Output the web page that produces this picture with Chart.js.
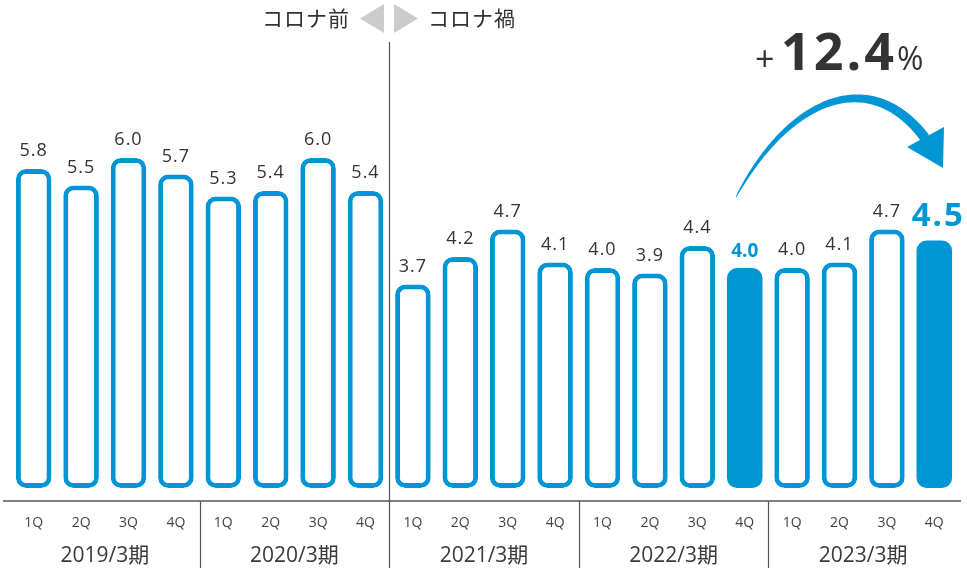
<!DOCTYPE html>
<html>
<head>
<meta charset="utf-8">
<script src="https://cdn.jsdelivr.net/npm/chart.js@4/dist/chart.umd.min.js"></script>
<style>
  html, body { margin: 0; padding: 0; background: #ffffff; }
  #wrap { width: 967px; height: 568px; }
</style>
</head>
<body>
<div id="wrap"><canvas id="chart" width="967" height="568"></canvas></div>
<script>
// Quarterly figures, five fiscal years of four quarters each
const quarters = ['1Q', '2Q', '3Q', '4Q', '1Q', '2Q', '3Q', '4Q', '1Q', '2Q', '3Q', '4Q',
                  '1Q', '2Q', '3Q', '4Q', '1Q', '2Q', '3Q', '4Q'];
const fiscalYears = ['2019/3期', '2020/3期', '2021/3期', '2022/3期', '2023/3期'];
const values = [5.8, 5.5, 6.0, 5.7, 5.3, 5.4, 6.0, 5.4, 3.7, 4.2, 4.7, 4.1,
                4.0, 3.9, 4.4, 4.0, 4.0, 4.1, 4.7, 4.5];
// Filled (emphasised) bars: the two most recent fourth quarters
const emphasised = [false, false, false, false, false, false, false, false, false, false,
                    false, false, false, false, false, true, false, false, false, true];
const growthText = ['+', '12.4', '%'];
const periodTexts = ['コロナ前', 'コロナ禍'];

const BLUE = '#0096d6';
const TEXT = '#333333';
const LINE = '#555555';
const FONT = "'Open Sans', 'Noto Sans CJK JP', sans-serif";
const JP_FONT = "'Noto Sans CJK JP', 'Open Sans', sans-serif";

const decorations = {
  id: 'decorations',
  afterDatasetsDraw(chart) {
    const ctx = chart.ctx;
    const x = chart.scales.x;
    const y = chart.scales.y;
    const area = chart.chartArea;
    const axisY = area.bottom + 13;

    ctx.save();

    // value labels above each bar
    ctx.textAlign = 'center';
    ctx.textBaseline = 'alphabetic';
    values.forEach((v, i) => {
      const px = x.getPixelForValue(i);
      const top = y.getPixelForValue(v);
      const txt = v.toFixed(1);
      if (emphasised[i]) {
        ctx.fillStyle = BLUE;
        if (i === values.length - 1) {
          ctx.font = 'bold 33px ' + FONT;
          ctx.letterSpacing = '2px';
          ctx.fillText(txt, px + 4, top - 15);
        } else {
          ctx.font = 'bold 19px ' + FONT;
          ctx.letterSpacing = '0px';
          ctx.fillText(txt, px, top - 11);
        }
      } else {
        ctx.fillStyle = TEXT;
        ctx.font = '18px ' + FONT;
        ctx.letterSpacing = '1px';
        ctx.fillText(txt, px, top - 13);
      }
    });
    ctx.letterSpacing = '0px';

    // horizontal axis line
    ctx.strokeStyle = LINE;
    ctx.lineWidth = 1.5;
    ctx.beginPath();
    ctx.moveTo(3, axisY);
    ctx.lineTo(961, axisY);
    ctx.stroke();

    // fiscal-year separators and labels
    ctx.lineWidth = 1.2;
    for (let g = 0; g < fiscalYears.length; g++) {
      const first = g * 4;
      const last = first + 3;
      if (g > 0) {
        const sx = Math.round((x.getPixelForValue(first - 1) + x.getPixelForValue(first)) / 2) + 0.5;
        ctx.beginPath();
        ctx.moveTo(sx, g === 2 ? 42 : axisY);
        ctx.lineTo(sx, 568);
        ctx.stroke();
      }
      const cx = (x.getPixelForValue(first) + x.getPixelForValue(last)) / 2;
      ctx.fillStyle = '#3a3a3a';
      ctx.font = '21px ' + FONT;
      ctx.textAlign = 'center';
      ctx.fillText(fiscalYears[g], cx, 562);
    }

    // quarter labels
    ctx.font = '14px ' + FONT;
    ctx.fillStyle = '#444444';
    quarters.forEach((q, i) => {
      ctx.fillText(q, x.getPixelForValue(i), 527);
    });

    // before / during markers around the central separator
    const mid = Math.round((x.getPixelForValue(7) + x.getPixelForValue(8)) / 2);
    ctx.fillStyle = '#cccccc';
    ctx.beginPath();
    ctx.moveTo(mid - 5, 4);
    ctx.lineTo(mid - 5, 33);
    ctx.lineTo(mid - 29, 18.5);
    ctx.closePath();
    ctx.fill();
    ctx.beginPath();
    ctx.moveTo(mid + 5, 4);
    ctx.lineTo(mid + 5, 33);
    ctx.lineTo(mid + 29, 18.5);
    ctx.closePath();
    ctx.fill();
    ctx.fillStyle = TEXT;
    ctx.font = '21px ' + JP_FONT;
    ctx.letterSpacing = '1px';
    ctx.textAlign = 'right';
    ctx.fillText(periodTexts[0], mid - 39, 26);
    ctx.textAlign = 'left';
    ctx.fillText(periodTexts[1], mid + 39, 26);
    ctx.letterSpacing = '0px';

    // growth figure
    ctx.textAlign = 'left';
    ctx.fillStyle = TEXT;
    ctx.font = '34px ' + FONT;
    ctx.fillText(growthText[0], 755, 71);
    ctx.font = 'bold 52px ' + FONT;
    ctx.letterSpacing = '3px';
    ctx.fillText(growthText[1], 781, 70);
    const w = ctx.measureText(growthText[1]).width;
    ctx.letterSpacing = '0px';
    ctx.font = '32px ' + FONT;
    ctx.fillText(growthText[2], 781 + w, 70);

    // curved arrow: tapered shaft along a cubic curve, then a triangular head
    const P = [[736, 197], [790, 96], [871, 66], [925, 138]];
    const pt = t => {
      const a = (1 - t) ** 3, b = 3 * (1 - t) ** 2 * t, c = 3 * (1 - t) * t * t, d = t ** 3;
      return [a * P[0][0] + b * P[1][0] + c * P[2][0] + d * P[3][0],
              a * P[0][1] + b * P[1][1] + c * P[2][1] + d * P[3][1]];
    };
    const tan = t => {
      const a = 3 * (1 - t) ** 2, b = 6 * (1 - t) * t, c = 3 * t * t;
      const dx = a * (P[1][0] - P[0][0]) + b * (P[2][0] - P[1][0]) + c * (P[3][0] - P[2][0]);
      const dy = a * (P[1][1] - P[0][1]) + b * (P[2][1] - P[1][1]) + c * (P[3][1] - P[2][1]);
      const l = Math.hypot(dx, dy);
      return [dx / l, dy / l];
    };
    const upper = [], lower = [];
    const N = 80;
    for (let k = 0; k <= N; k++) {
      const t = k / N;
      const p = pt(t);
      const d = tan(t);
      const hw = 0.3 + 4.8 * Math.pow(t, 0.6);
      upper.push([p[0] + d[1] * hw, p[1] - d[0] * hw]);
      lower.push([p[0] - d[1] * hw, p[1] + d[0] * hw]);
    }
    ctx.fillStyle = BLUE;
    ctx.beginPath();
    ctx.moveTo(upper[0][0], upper[0][1]);
    upper.forEach(p => ctx.lineTo(p[0], p[1]));
    for (let k = lower.length - 1; k >= 0; k--) ctx.lineTo(lower[k][0], lower[k][1]);
    ctx.closePath();
    ctx.fill();
    ctx.beginPath();
    ctx.moveTo(943, 168);
    ctx.lineTo(907, 147);
    ctx.lineTo(944, 127);
    ctx.closePath();
    ctx.fill();

    ctx.restore();
  }
};

new Chart(document.getElementById('chart'), {
  type: 'bar',
  data: {
    labels: quarters,
    datasets: [{
      data: values,
      backgroundColor: emphasised.map(e => e ? BLUE : '#ffffff'),
      borderColor: BLUE,
      borderWidth: emphasised.map(e => e ? 0 : 5),
      borderRadius: 10,
      borderSkipped: false,
      barPercentage: 0.75,
      categoryPercentage: 1
    }]
  },
  options: {
    responsive: false,
    devicePixelRatio: 1,
    animation: false,
    layout: { padding: { left: 10, right: 9, top: 48, bottom: 80 } },
    plugins: { legend: { display: false }, tooltip: { enabled: false } },
    scales: {
      x: { display: false },
      y: { display: false, min: 0, max: 8 }
    }
  },
  plugins: [decorations]
});
</script>
</body>
</html>
